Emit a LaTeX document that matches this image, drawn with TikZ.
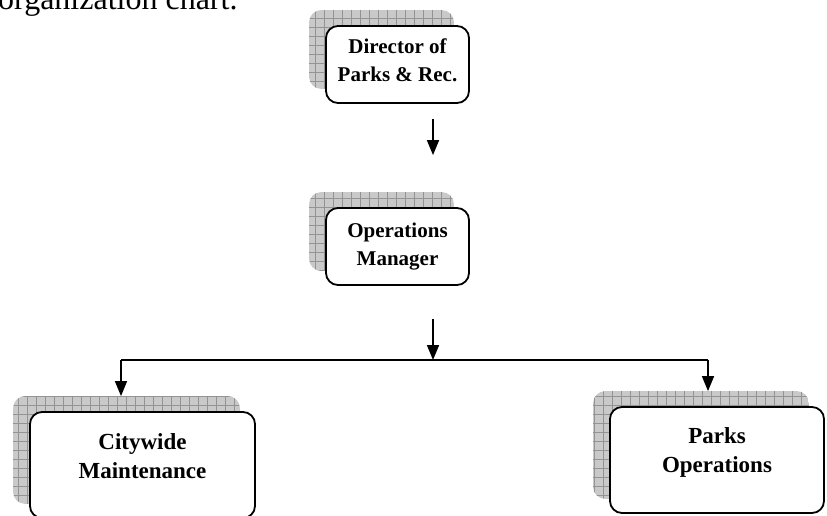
\documentclass[tikz,border=0pt]{standalone}
\usepackage{fontspec}
\setmainfont{Liberation Serif}
\usetikzlibrary{arrows.meta,calc,backgrounds}
\begin{document}
\begin{tikzpicture}[x=1pt,y=-1pt,
  box/.style={draw=black,line width=1.8pt,rounded corners=12pt,fill=white,inner sep=0pt},
  boxtext/.style={align=center,font=\bfseries\fontsize{21}{28}\selectfont,inner sep=0pt},
  bigtext/.style={boxtext,font=\bfseries\fontsize{23}{29}\selectfont},
  arr/.style={line width=1.6pt,-{Triangle[length=15pt,width=12pt]}},
  busline/.style={line width=1.6pt},
  shadowfill/.style={fill=gray!42},
  shadowgrid/.style={draw=gray!85,line width=0.5pt}]
\useasboundingbox (0,0) rectangle (827,515);
\node[anchor=base west,font=\fontsize{32}{36}\selectfont,inner sep=0pt] (cap) at (-2,9) {organization chart.};
\node[box,minimum width=143pt,minimum height=77pt] (dir) at (397.5,64.5) {};
\node[box,minimum width=143pt,minimum height=77pt] (ops) at (397.5,246.5) {};
\node[box,minimum width=225pt,minimum height=106pt] (city) at (142.5,465) {};
\node[box,minimum width=214pt,minimum height=106pt] (parks) at (717,460) {};
\node[boxtext] (dirT) at ($(dir)+(0,-4)$) {Director of\\Parks \& Rec.};
\node[boxtext] (opsT) at ($(ops)+(0,0)$) {Operations\\Manager};
\node[bigtext] (cityT) at ($(city)+(0,-9)$) {Citywide\\Maintenance};
\node[bigtext] (parksT) at ($(parks)+(0,-8)$) {Parks\\Operations};
\begin{scope}[on background layer]
\foreach \n in {dir,ops,city,parks}{
  \begin{scope}
    \clip[rounded corners=12pt] ($(\n.north west)+(-16,-15)$) rectangle ($(\n.south east)+(-16,-15)$);
    \fill[shadowfill] ($(\n.north west)+(-16,-15)$) rectangle ($(\n.south east)+(-16,-15)$);
    \draw[shadowgrid,step=9pt] ($(\n.north west)+(-20,-20)$) grid ($(\n.south east)+(0,0)$);
  \end{scope}
}
\end{scope}
\coordinate (busL) at (121,360);
\coordinate (busM) at (433,360);
\coordinate (busR) at (708,360);
\draw[arr] ($(dir.south)+(35.5,15)$) -- ($(ops.north)+(35.5,-52)$);
\draw[arr] ($(ops.south)+(35.5,33)$) -- (busM);
\draw[busline] (busL) -- (busR);
\draw[arr] (busL) -- ($(busL |- city.north)+(0,-15)$);
\draw[arr] (busR) -- ($(busR |- parks.north)+(0,-15)$);
\end{tikzpicture}
\end{document}
